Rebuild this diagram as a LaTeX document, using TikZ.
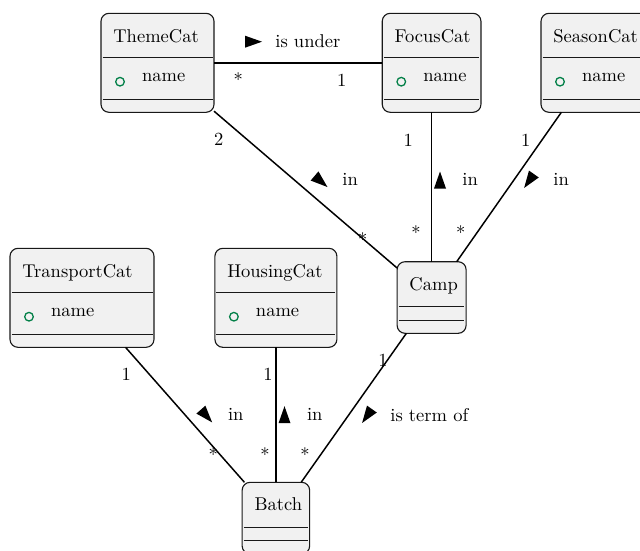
\documentclass[tikz,border=0pt]{standalone}
\usetikzlibrary{calc}
\definecolor{boxfill}{HTML}{F1F1F1}
\definecolor{boxline}{HTML}{181818}
\definecolor{fieldmark}{HTML}{038048}

\tikzset{
  classbox/.style={draw=boxline, line width=0.6pt, fill=boxfill,
    rounded corners=4.3pt, inner sep=0pt, outer sep=0pt},
  boxsize/.style 2 args={minimum width=#1*0.54pt, minimum height=#2*0.54pt},
  boxtitle/.style={anchor=base west, inner sep=0pt},
  attrtext/.style={anchor=base west, inner sep=0pt},
  multtext/.style={anchor=base, inner sep=0pt},
  roletext/.style={anchor=base west, inner sep=0pt},
  assoc/.style={line width=0.8pt, draw=black},
  sepline/.style={draw=boxline, line width=0.55pt},
  fieldicon/.style={circle, draw=fieldmark, line width=0.7pt,
    minimum size=8.6*0.54pt, inner sep=0pt},
}

% class with one attribute row and an empty operation row
\newcommand\attrclass[6]{%
  \node[classbox, boxsize={#4}{99}] (#1) at (#2,#3) {};
  \draw[sepline] ($(#1.north west)+(1.5,44.4)$) -- ($(#1.north east)+(-1.5,44.4)$);
  \draw[sepline] ($(#1.north west)+(1.5,86)$) -- ($(#1.north east)+(-1.5,86)$);
  \node[boxtitle] (#1-title) at ($(#1.north west)+(12,29.4)$) {#5};
  \node[fieldicon] (#1-icon) at ($(#1.north west)+(19,68.4)$) {};
  \node[attrtext] (#1-attr) at ($(#1.north west)+(40.7,67.7)$) {#6};
}
% class with empty attribute and operation rows
\newcommand\plainclass[5]{%
  \node[classbox, boxsize={#4}{71.6}] (#1) at (#2,#3) {};
  \draw[sepline] ($(#1.north west)+(1.7,45)$) -- ($(#1.north east)+(-1.7,45)$);
  \draw[sepline] ($(#1.north west)+(1.7,58.5)$) -- ($(#1.north east)+(-1.7,58.5)$);
  \node[boxtitle] (#1-title) at ($(#1.north west)+(12,28.3)$) {#5};
}
% reading-direction triangle: centre (#1,#2), unit direction (#3,#4)
\newcommand\readmark[4]{%
  \fill[black] ({#1+8.5*(#3)},{#2+8.5*(#4)})
    -- ({#1-8.5*(#3)-6*(#4)},{#2-8.5*(#4)+6*(#3)})
    -- ({#1-8.5*(#3)+6*(#4)},{#2-8.5*(#4)-6*(#3)}) -- cycle;
}

\begin{document}
\begin{tikzpicture}[x=0.54pt, y=-0.54pt]
  \useasboundingbox (0,0) rectangle (640,550);
  \clip (0,0) rectangle (640,550);

  % classes
  \attrclass{theme}{157.5}{62.8}{113}{ThemeCat}{name}
  \attrclass{focus}{431.6}{62.8}{98.7}{FocusCat}{name}
  \attrclass{season}{596}{62.8}{110}{SeasonCat}{name}
  \attrclass{transport}{82}{297.8}{144}{TransportCat}{name}
  \attrclass{housing}{275.9}{297.8}{122}{HousingCat}{name}
  \plainclass{camp}{431.6}{297.5}{69}{Camp}
  \plainclass{batch}{275.9}{518.1}{67.5}{Batch}

  % associations
  \draw[assoc] (theme) -- (focus);
  \draw[assoc] (theme) -- (camp);
  \draw[assoc] (focus) -- (camp);
  \draw[assoc] (season) -- (camp);
  \draw[assoc] (transport) -- (batch);
  \draw[assoc] (housing) -- (batch);
  \draw[assoc] (camp) -- (batch);

  % ThemeCat -- FocusCat
  \readmark{253.5}{41.7}{1}{0}
  \node[roletext] (under) at (275,47.7) {is under};
  \node[multtext] (m-theme-a) at (238.3,86.7) {*};
  \node[multtext] (m-focus-a) at (341.7,86.7) {1};

  % ThemeCat -- Camp
  \node[multtext] (m-theme-b) at (218.8,145) {2};
  \node[multtext] (m-camp-a) at (362.7,246) {*};
  \readmark{321}{181.5}{0.7595}{0.6503}
  \node[roletext] (in-a) at (342,185) {in};

  % FocusCat -- Camp
  \node[multtext] (m-focus-b) at (408.3,146) {1};
  \node[multtext] (m-camp-b) at (416,239) {*};
  \readmark{440}{180}{0}{-1}
  \node[roletext] (in-b) at (462,185) {in};

  % SeasonCat -- Camp
  \node[multtext] (m-season) at (525.7,146) {1};
  \node[multtext] (m-camp-c) at (460.7,239) {*};
  \readmark{529}{181}{-0.5737}{0.8190}
  \node[roletext] (in-c) at (553,185) {in};

  % TransportCat -- Batch
  \node[multtext] (m-transport) at (126.3,380) {1};
  \node[multtext] (m-batch-a) at (213.3,461) {*};
  \readmark{206.5}{416}{0.6607}{0.7506}
  \node[roletext] (in-d) at (227.7,420) {in};

  % HousingCat -- Batch
  \node[multtext] (m-housing) at (268,380) {1};
  \node[multtext] (m-batch-b) at (265,461) {*};
  \readmark{284.5}{414.7}{0}{-1}
  \node[roletext] (in-e) at (306.7,420) {in};

  % Camp -- Batch
  \node[multtext] (m-camp-d) at (383,366) {1};
  \node[multtext] (m-batch-c) at (305,461) {*};
  \readmark{367}{416}{-0.5767}{0.8170}
  \node[roletext] (termof) at (390,421) {is term of};
\end{tikzpicture}
\end{document}
